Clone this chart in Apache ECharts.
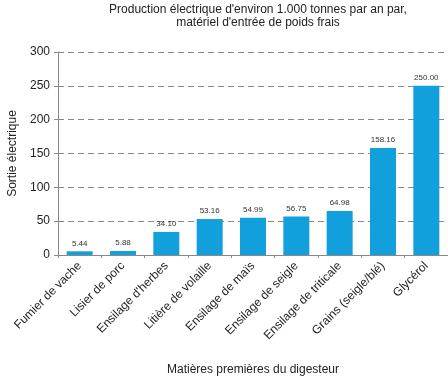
<!DOCTYPE html>
<html><head><meta charset="utf-8">
<script src="https://cdn.jsdelivr.net/npm/echarts@6/dist/echarts.min.js"></script>
<style>html,body{margin:0;padding:0;background:#fff}#c{width:448px;height:379px}</style>
</head><body><div id="c"></div>
<script>
const categories = ["Fumier de vache","Lisier de porc","Ensilage d'herbes","Litière de volaille","Ensilage de maïs","Ensilage de seigle","Ensilage de triticale","Grains (seigle/blé)","Glycérol"];
const values = [5.44, 5.88, 34.10, 53.16, 54.99, 56.75, 64.98, 158.16, 250.00];
const yTicks = [0, 50, 100, 150, 200, 250, 300];
const titleText = "Production électrique d'environ 1.000 tonnes par an par,\nmatériel d'entrée de poids frais";
const yName = "Sortie électrique";
const xName = "Matières premières du digesteur";

const chart = echarts.init(document.getElementById('c'), null, {renderer:'canvas'});
chart.setOption({
  animation:false,
  textStyle:{fontFamily:'Liberation Sans, Arial, sans-serif'},
  title:{text:titleText,left:253,textAlign:'center',top:-2,textStyle:{fontSize:12,fontWeight:'normal',color:'#222',lineHeight:13}},
  grid:{left:58,right:0,top:52,bottom:124,containLabel:false,outerBoundsMode:'none'},
  xAxis:{type:'category',data:categories,
    name:xName,nameLocation:'middle',nameGap:109,nameTextStyle:{fontSize:12,color:'#222'},
    axisLine:{lineStyle:{color:'#888'}},
    axisTick:{show:true,length:3,lineStyle:{color:'#888'}},
    axisLabel:{rotate:45,fontSize:12,color:'#222',margin:9,interval:0}},
  yAxis:{type:'value',min:yTicks[0],max:yTicks[yTicks.length-1],interval:50,
    name:yName,nameLocation:'middle',nameGap:39,nameRotate:90,nameTextStyle:{fontSize:12,color:'#222'},
    axisLine:{show:true,lineStyle:{color:'#888'}},
    axisTick:{show:true,length:4,lineStyle:{color:'#888'}},
    axisLabel:{fontSize:12,color:'#222',margin:8},
    splitLine:{lineStyle:{type:[6,4],color:'#888'}}},
  series:[{type:'bar',data:values,barCategoryGap:'40%',
    itemStyle:{color:'#12a0dc'},
    label:{show:true,position:'top',fontSize:8,color:'#333',distance:4,formatter:p=>p.value.toFixed(2)}}]
});
</script></body></html>
